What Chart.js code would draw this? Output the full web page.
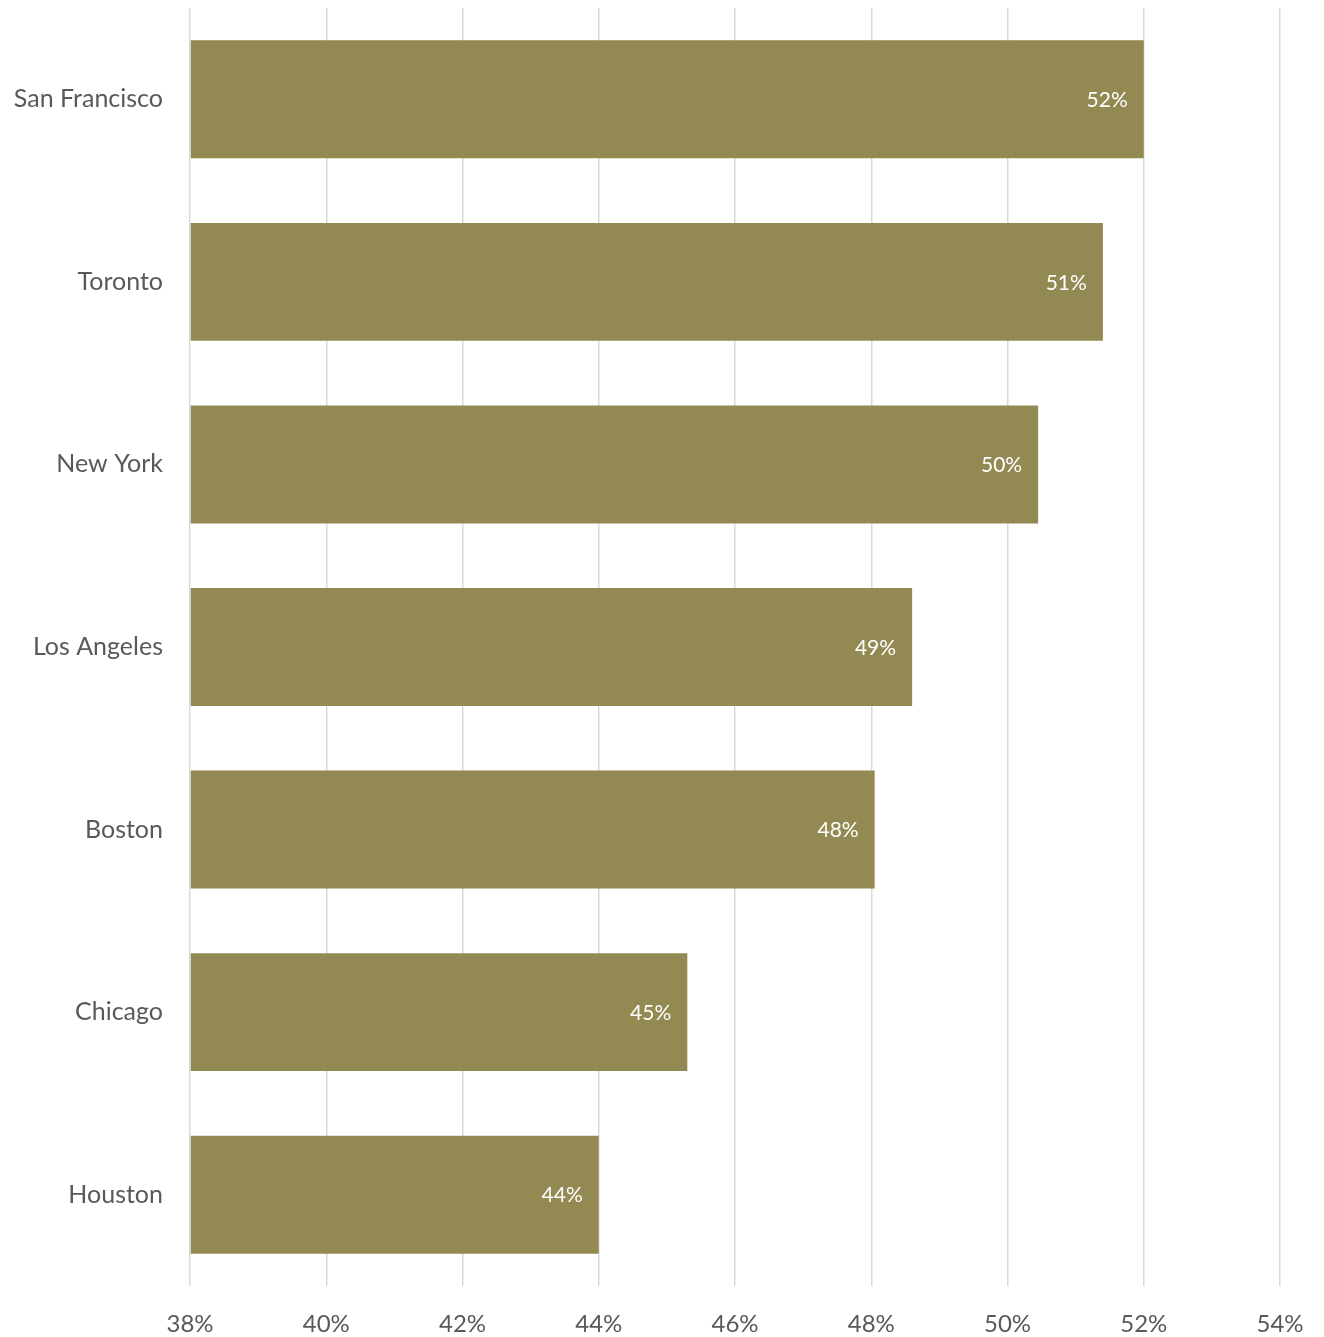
<!DOCTYPE html>
<html>
<head>
<meta charset="utf-8">
<script src="https://cdn.jsdelivr.net/npm/chart.js@4"></script>
<style>
  html, body { margin: 0; padding: 0; background: #ffffff; }
  #wrap { width: 1324px; height: 1337px; }
</style>
</head>
<body>
<div id="wrap"><canvas id="cityChart"></canvas></div>
<script>
// Chart data
const cities = ["San Francisco", "Toronto", "New York", "Los Angeles", "Boston", "Chicago", "Houston"];
const shares = [52.0, 51.4, 50.45, 48.6, 48.05, 45.3, 44.0];
const axisMin = 38;
const axisMax = 54;
const axisStep = 2;

const barColor = "#938a53";
const textGrey = "#595959";

// draws the white % label inside each bar end
const barLabels = {
  id: "barLabels",
  afterDatasetsDraw(chart) {
    const c = chart.ctx;
    const meta = chart.getDatasetMeta(0);
    c.save();
    c.fillStyle = "#ffffff";
    c.font = "21px Lato";
    c.textAlign = "right";
    c.textBaseline = "middle";
    meta.data.forEach((bar, i) => {
      c.fillText(Math.round(shares[i]) + "%", bar.x - 16, bar.y + 1);
    });
    c.restore();
  }
};

new Chart(document.getElementById("cityChart"), {
  type: "bar",
  data: {
    labels: cities,
    datasets: [{
      data: shares,
      backgroundColor: barColor,
      categoryPercentage: 1,
      barPercentage: 0.646,
      base: axisMin
    }]
  },
  options: {
    indexAxis: "y",
    responsive: true,
    maintainAspectRatio: false,
    animation: false,
    layout: { padding: { top: 8, right: 44, left: 0, bottom: 0 } },
    plugins: {
      legend: { display: false },
      tooltip: { enabled: false }
    },
    scales: {
      x: {
        min: axisMin,
        max: axisMax,
        border: { display: false },
        grid: { color: "#d9d9d9", lineWidth: 1.5, drawTicks: false },
        ticks: {
          stepSize: axisStep,
          padding: 24,
          color: textGrey,
          font: { family: "Lato", size: 24 },
          callback: (v) => v + "%"
        },
        afterFit(scale) {
          scale.height = 51;
          scale.paddingLeft = 0;
          scale.paddingRight = 0;
        }
      },
      y: {
        border: { display: false },
        grid: { display: false },
        ticks: {
          padding: 19,
          color: textGrey,
          font: { family: "Lato", size: 25 }
        },
        afterFit(scale) {
          scale.width = 190;
          scale.paddingTop = 0;
          scale.paddingBottom = 0;
        }
      }
    }
  },
  plugins: [barLabels]
});
</script>
</body>
</html>
